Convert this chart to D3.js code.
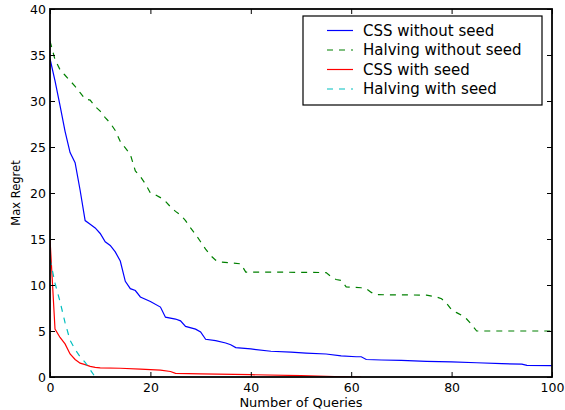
<!DOCTYPE html>
<html>
<head>
<meta charset="utf-8">
<script src="https://cdn.jsdelivr.net/npm/d3@7"></script>
<style>
  body { margin: 0; background: #fff; }
  text { font-family: 'DejaVu Sans', sans-serif; fill: #000; }
  .axis path { display: none; }
  .axis line { stroke: #000; stroke-width: 1; }
  .axis text { font-size: 12.5px; }
</style>
</head>
<body>
<div id="chart"></div>
<script>
var seriesNames = ['CSS without seed', 'Halving without seed', 'CSS with seed', 'Halving with seed'];

var cssNoSeedX = [0, 1, 2, 3, 4, 5, 6, 7, 8, 9, 10, 11, 12, 13, 14, 15, 16, 17, 18, 20, 22, 23, 25, 26, 27, 29, 30, 31, 33, 35, 36, 37, 40, 44, 48, 51, 55, 58, 61, 62, 63, 66, 70, 75, 80, 85, 90, 94, 95, 100];
var cssNoSeedY = [34.6, 32.2, 29.5, 26.7, 24.4, 23.3, 20.3, 17.0, 16.6, 16.2, 15.6, 14.7, 14.3, 13.6, 12.6, 10.4, 9.6, 9.4, 8.7, 8.2, 7.6, 6.5, 6.3, 6.1, 5.5, 5.2, 4.9, 4.1, 3.95, 3.7, 3.5, 3.2, 3.05, 2.8, 2.7, 2.6, 2.5, 2.3, 2.2, 2.2, 1.9, 1.85, 1.8, 1.7, 1.65, 1.55, 1.45, 1.4, 1.27, 1.23];

var halvNoSeedX = [0, 1, 2, 3, 4, 5, 6, 7, 8, 9, 10, 11, 12, 13, 14, 15, 16, 17, 18, 19, 20, 21, 22, 23, 24, 25, 26, 27, 28, 29, 30, 31, 32, 33, 34, 36, 38, 39, 45, 55, 56, 57, 58, 59, 62, 63, 64, 65, 75, 77, 78, 79, 80, 81, 82, 83, 84, 85, 100];
var halvNoSeedY = [36.5, 34.5, 33.4, 32.8, 32.2, 31.6, 30.9, 30.2, 30.1, 29.4, 28.9, 28.2, 27.6, 26.8, 25.6, 24.9, 24.2, 22.4, 21.8, 21.0, 20.0, 19.8, 19.5, 19.1, 18.5, 18.0, 17.6, 17.0, 16.2, 15.5, 14.7, 13.9, 13.2, 12.7, 12.5, 12.4, 12.3, 11.4, 11.4, 11.35, 10.9, 10.6, 10.5, 9.8, 9.7, 9.6, 9.2, 8.95, 8.9, 8.7, 8.5, 8.0, 7.3, 7.0, 6.7, 6.3, 5.7, 5.0, 5.0];

var cssSeedX = [0, 1, 2, 3, 4, 5, 6, 7, 8, 9, 10, 14, 18, 22, 24, 25, 30, 40, 50, 55, 60, 62];
var cssSeedY = [15.0, 5.2, 4.3, 3.6, 2.5, 1.9, 1.5, 1.35, 1.15, 1.05, 1.0, 0.95, 0.85, 0.75, 0.6, 0.4, 0.33, 0.25, 0.15, 0.08, 0.0, 0.0];

var halvSeedX = [0, 1, 2, 3, 4, 5, 6, 7, 8, 9];
var halvSeedY = [12.8, 10.2, 8.2, 5.9, 4.0, 3.0, 2.2, 1.6, 0.8, 0.0];

var xTicks = [0, 20, 40, 60, 80, 100];
var yTicks = [0, 5, 10, 15, 20, 25, 30, 35, 40];

var zipSeries = function (xs, ys) {
  return xs.map(function (x, i) {
    return { x: x, y: ys[i] };
  });
}

var drawChart = function () {
  var margin = { top: 9, right: 13, bottom: 33, left: 50 },
      width = 565 - margin.left - margin.right,
      height = 410 - margin.top - margin.bottom;

  var series = [
    { name: seriesNames[0], values: zipSeries(cssNoSeedX, cssNoSeedY), color: '#0000ff', dash: null },
    { name: seriesNames[1], values: zipSeries(halvNoSeedX, halvNoSeedY), color: '#008000', dash: '6,6' },
    { name: seriesNames[2], values: zipSeries(cssSeedX, cssSeedY), color: '#ff0000', dash: null },
    { name: seriesNames[3], values: zipSeries(halvSeedX, halvSeedY), color: '#00bfbf', dash: '6,6' }
  ];

  var svg = d3.select('#chart').append('svg')
      .attr('width', 565)
      .attr('height', 410);

  var g = svg.append('g')
      .attr('transform', 'translate(' + margin.left + ',' + margin.top + ')');

  var x = d3.scaleLinear()
      .domain([0, 100])
      .range([0, width]);

  var y = d3.scaleLinear()
      .domain([0, 40])
      .range([height, 0]);

  svg.append('defs').append('clipPath')
      .attr('id', 'plot-clip')
      .append('rect')
      .attr('width', width)
      .attr('height', height);

  var line = d3.line()
      .x(function (d) { return x(d.x); })
      .y(function (d) { return y(d.y); });

  g.append('g')
    .attr('clip-path', 'url(#plot-clip)')
    .selectAll('.series')
    .data(series)
    .enter()
    .append('path')
    .attr('class', 'series')
    .attr('d', function (d) { return line(d.values); })
    .style('fill', 'none')
    .style('stroke', function (d) { return d.color; })
    .style('stroke-width', 1.2)
    .style('stroke-dasharray', function (d) { return d.dash; });

  // ticks point inward on all four sides
  g.append('g')
    .attr('class', 'axis')
    .attr('transform', 'translate(0,' + height + ')')
    .call(d3.axisBottom(x).tickValues(xTicks).tickSizeInner(-5).tickSizeOuter(0).tickPadding(6));

  g.append('g')
    .attr('class', 'axis')
    .call(d3.axisTop(x).tickValues(xTicks).tickSizeInner(-5).tickSizeOuter(0).tickFormat(''));

  g.append('g')
    .attr('class', 'axis')
    .call(d3.axisLeft(y).tickValues(yTicks).tickSizeInner(-5).tickSizeOuter(0).tickPadding(4));

  g.append('g')
    .attr('class', 'axis')
    .attr('transform', 'translate(' + width + ',0)')
    .call(d3.axisRight(y).tickValues(yTicks).tickSizeInner(-5).tickSizeOuter(0).tickFormat(''));

  g.append('rect')
    .attr('width', width)
    .attr('height', height)
    .style('fill', 'none')
    .style('stroke', '#000')
    .style('stroke-width', 1.8);

  g.append('text')
    .attr('x', width / 2)
    .attr('y', height + 29.5)
    .attr('text-anchor', 'middle')
    .style('font-size', '13px')
    .text('Number of Queries');

  g.append('text')
    .attr('transform', 'translate(' + (-30) + ',' + (height / 2) + ') rotate(-90)')
    .attr('text-anchor', 'middle')
    .style('font-size', '11.5px')
    .text('Max Regret');

  // legend, upper right
  var legend = g.append('g')
      .attr('transform', 'translate(' + (width - 249) + ',' + 7 + ')');

  legend.append('rect')
    .attr('width', 239)
    .attr('height', 89)
    .style('fill', '#fff')
    .style('stroke', '#000')
    .style('stroke-width', 1.2);

  var items = legend.selectAll('.legend-item')
      .data(series)
      .enter()
      .append('g')
      .attr('class', 'legend-item')
      .attr('transform', function (d, i) {
        return 'translate(0,' + (14.5 + i * 19.5) + ')';
      });

  items.append('line')
    .attr('x1', 24)
    .attr('x2', 50)
    .style('stroke', function (d) { return d.color; })
    .style('stroke-width', 1.2)
    .style('stroke-dasharray', function (d) { return d.dash; });

  items.append('text')
    .attr('x', 60)
    .attr('dy', '0.36em')
    .style('font-size', '15px')
    .text(function (d) { return d.name; });
}

drawChart();
</script>
</body>
</html>
